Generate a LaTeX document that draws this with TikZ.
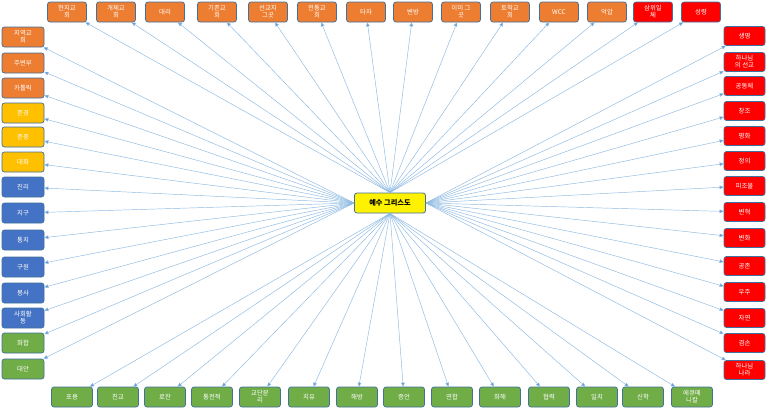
\documentclass[tikz,border=0pt]{standalone}
\usepackage{fontspec}
\setmainfont{Noto Sans CJK KR}
\usetikzlibrary{arrows.meta}
\definecolor{org}{HTML}{ED7D31}
\definecolor{ylw}{HTML}{FFC000}
\definecolor{blu}{HTML}{4472C4}
\definecolor{grn}{HTML}{70AD47}
\definecolor{rd}{HTML}{FF0000}
\definecolor{edgec}{HTML}{41719C}
\definecolor{connc}{HTML}{5B9BD5}
\tikzset{
  box/.style={draw=edgec, line width=0.7pt, rounded corners=2.5pt, minimum width=40pt,
    minimum height=20pt, inner sep=0.5pt, text=white, align=center,
    font=\fontsize{6.4}{7}\selectfont},
  link/.style={draw=connc!70, line width=0.45pt,
    -{Triangle[length=4pt,width=3.6pt,fill=connc]}},
  hub/.style={draw=edgec, line width=0.8pt, fill=yellow, rounded corners=2.5pt,
    minimum width=71pt, minimum height=20pt, inner sep=1pt, text=black,
    font=\fontsize{7.2}{8}\selectfont\bfseries}
}
\begin{document}
\begin{tikzpicture}[x=1pt,y=-1pt]
\useasboundingbox[fill=white] (0,0) rectangle (770,408);
\node[hub] (c) at (390,203) {예수 그리스도};
% top row
\foreach \x/\t/\c [count=\i] in {
  67/{현지교\\회}/org, 116/{개체교\\회}/org, 165/{대리}/org, 217/{기존교\\회}/org,
  268/{선교지\\그곳}/org, 317/{전통교\\회}/org, 366/{타자}/org, 413/{변방}/org,
  461/{이미 그\\곳}/org, 510/{토착교\\회}/org, 559/{WCC}/org, 607/{억압}/org,
  653/{삼위일\\체}/rd, 701/{성령}/rd}
  \node[box, fill=\c, minimum width=39pt] (t\i) at (\x,12) {\t};
% left column
\foreach \y/\t/\c [count=\i] in {
  37/{지역교\\회}/org, 63/{주변부}/org, 88/{카톨릭}/org, 113/{존경}/ylw,
  137/{존중}/ylw, 162/{대화}/ylw, 187/{진리}/blu, 213/{지구}/blu,
  240/{통치}/blu, 267/{구원}/blu, 293/{봉사}/blu, 318/{사회활\\동}/blu,
  343/{화합}/grn, 369/{대안}/grn}
  \node[box, fill=\c, minimum width=42pt] (l\i) at (23,\y) {\t};
% right column
\foreach \y/\t [count=\i] in {
  36/{생명}, 62/{하나님\\의 선교}, 86/{공동체}, 111/{창조}, 136/{평화},
  161/{정의}, 186/{피조물}, 212/{변혁}, 238/{변화}, 266/{공존}, 292/{우주},
  318/{자연}, 343/{겸손}, 370/{하나님\\나라}}
  \node[box, fill=rd, minimum width=41pt, minimum height=19pt] (r\i) at (744.5,\y) {\t};
% bottom row
\foreach \x/\t [count=\i] in {
  72/{포용}, 118/{친교}, 165/{로잔}, 212/{통전적}, 260/{교단분\\리},
  309/{치유}, 357/{해방}, 404/{증언}, 452/{연합}, 500/{화해},
  549/{협력}, 597/{일치}, 643/{신학}, 692/{에큐메\\니칼}}
  \node[box, fill=grn, minimum width=41pt] (b\i) at (\x,397) {\t};
% connectors
\foreach \i in {1,...,14} {
  \draw[link] (c.north) -- (t\i);
  \draw[link] (c.west) -- (l\i);
  \draw[link] (c.east) -- (r\i);
  \draw[link] (c.south) -- (b\i);
}
\end{tikzpicture}
\end{document}
